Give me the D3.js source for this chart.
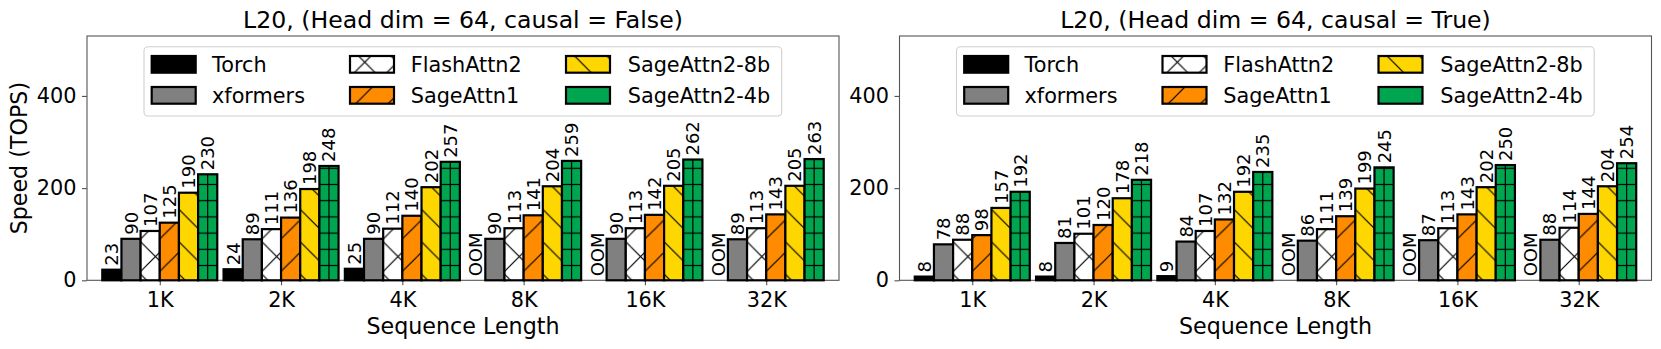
<!DOCTYPE html>
<html>
<head>
<meta charset="utf-8">
<script src="https://cdn.jsdelivr.net/npm/d3@7"></script>
<style>
  body { margin: 0; background: #fff; }
  text { font-family: "DejaVu Sans", sans-serif; fill: #000; }
</style>
</head>
<body>
<div class="chart"></div>
<script>
// ---- data ----
const seqLabels = ["1K", "2K", "4K", "8K", "16K", "32K"];
const methods = ["Torch", "xformers", "FlashAttn2", "SageAttn1", "SageAttn2-8b", "SageAttn2-4b"];
const yTicks = [0, 200, 400];
const titles = ["L20, (Head dim = 64, causal = False)", "L20, (Head dim = 64, causal = True)"];

// null means OOM
const torchFalse = [23, 24, 25, null, null, null];
const xformersFalse = [90, 89, 90, 90, 90, 89];
const flashFalse = [107, 111, 112, 113, 113, 113];
const sage1False = [125, 136, 140, 141, 142, 143];
const sage8bFalse = [190, 198, 202, 204, 205, 205];
const sage4bFalse = [230, 248, 257, 259, 262, 263];

const torchTrue = [8, 8, 9, null, null, null];
const xformersTrue = [78, 81, 84, 86, 87, 88];
const flashTrue = [88, 101, 107, 111, 113, 114];
const sage1True = [98, 120, 132, 139, 143, 144];
const sage8bTrue = [157, 178, 192, 199, 202, 204];
const sage4bTrue = [192, 218, 235, 245, 250, 254];

const panels = [
  [torchFalse, xformersFalse, flashFalse, sage1False, sage8bFalse, sage4bFalse],
  [torchTrue, xformersTrue, flashTrue, sage1True, sage8bTrue, sage4bTrue]
];

const colors = ["#000000", "#808080", "#ffffff", "#ff8c00", "#ffd700", "#00a550"];
const hatches = [null, null, "hx", "hf", "hb", "hh"];

// ---- layout ----
const W = 1661, H = 349;
const plotTop = 36;
const plotW = 752, plotH = 244.3;
const panelLeft = [87, 899.5];
const barW = 0.158;

const svg = d3.select(".chart").append("svg")
  .attr("width", W)
  .attr("height", H);

const defs = svg.append("defs");

// hatch tiles (diagonals every 32.4px, horizontal every 16.2px)
const P = 32.4, Q = 16.2;
function addPattern(id, size, segs, tx, ty) {
  const p = defs.append("pattern")
    .attr("id", id)
    .attr("patternUnits", "userSpaceOnUse")
    .attr("width", size)
    .attr("height", size)
    .attr("patternTransform", `translate(${tx},${ty})`);
  segs.forEach(s => {
    p.append("line")
      .attr("x1", s[0]).attr("y1", s[1])
      .attr("x2", s[2]).attr("y2", s[3])
      .attr("stroke", "#000")
      .attr("stroke-width", 1.2);
  });
}
const fwd = [[0, P, P, 0], [-2, 2, 2, -2], [P - 2, P + 2, P + 2, P - 2]];
const back = [[0, 0, P, P], [-2, P - 2, 2, P + 2], [P - 2, -2, P + 2, 2]];
addPattern("hf", P, fwd, 8.6, 0);
addPattern("hb", P, back, 0, 11.4);
addPattern("hx", P, fwd.concat(back), -1.4, 10);
addPattern("hh", Q, [[-1, Q / 2, Q + 1, Q / 2]], 0, -5.4);

const x = d3.scaleLinear().domain([-0.6, 5.6]).range([0, plotW]);
const y = d3.scaleLinear().domain([0, 530]).range([plotH, 0]);
const bw = x(barW) - x(0);

panels.forEach((series, p) => {
  const plot = svg.append("g")
    .attr("transform", `translate(${panelLeft[p]},${plotTop})`);

  // title
  svg.append("text")
    .attr("x", panelLeft[p] + plotW / 2)
    .attr("y", 28)
    .attr("text-anchor", "middle")
    .attr("font-size", "23.6px")
    .text(titles[p]);

  // axes
  const xAxis = d3.axisBottom(x)
    .tickValues(d3.range(seqLabels.length))
    .tickFormat(i => seqLabels[i])
    .tickSize(5)
    .tickSizeOuter(0)
    .tickPadding(6.6);
  const yAxis = d3.axisLeft(y)
    .tickValues(yTicks)
    .tickSize(5)
    .tickSizeOuter(0)
    .tickPadding(5.5);

  const gx = plot.append("g").attr("transform", `translate(0,${plotH})`).call(xAxis);
  const gy = plot.append("g").call(yAxis);
  [gx, gy].forEach(g => {
    g.select(".domain").remove();
    g.selectAll("line").attr("stroke", "#555").attr("stroke-width", 1.1);
    g.selectAll("text").attr("font-size", "20.8px").attr("font-family", "DejaVu Sans").attr("fill", "#000");
  });

  // frame
  plot.append("rect")
    .attr("width", plotW)
    .attr("height", plotH)
    .attr("fill", "none")
    .attr("stroke", "#555")
    .attr("stroke-width", 1.1);

  // bars
  series.forEach((vals, j) => {
    vals.forEach((v, i) => {
      const left = x(i + (j - 3) * barW);
      const g = plot.append("g").attr("transform", `translate(${left},0)`);
      const val = v == null ? 0 : v;
      if (v != null) {
        g.append("rect")
          .attr("x", 0).attr("y", y(v))
          .attr("width", bw).attr("height", plotH - y(v))
          .attr("fill", colors[j]);
        if (hatches[j]) {
          g.append("rect")
            .attr("x", 0).attr("y", y(v))
            .attr("width", bw).attr("height", plotH - y(v))
            .attr("fill", `url(#${hatches[j]})`);
        }
        if (j == 5) {
          // 4b bars also carry a centre line
          g.append("line")
            .attr("x1", bw / 2).attr("x2", bw / 2)
            .attr("y1", y(v)).attr("y2", plotH)
            .attr("stroke", "#000")
            .attr("stroke-width", 1.2);
        }
        g.append("rect")
          .attr("x", 0).attr("y", y(v))
          .attr("width", bw).attr("height", plotH - y(v))
          .attr("fill", "none")
          .attr("stroke", "#000")
          .attr("stroke-width", 2.2);
      }
      plot.append("text")
        .attr("transform", `translate(${left + bw / 2},${y(val) - 4}) rotate(-90)`)
        .attr("dy", "0.36em")
        .attr("font-size", "18px")
        .text(v == null ? "OOM" : v);
    });
  });

  // legend
  const lg = plot.append("g");
  lg.append("rect")
    .attr("x", 57).attr("y", 10.7)
    .attr("width", 637.7).attr("height", 69.3)
    .attr("rx", 4)
    .attr("fill", "#fff").attr("fill-opacity", 0.8)
    .attr("stroke", "#d0d0d0")
    .attr("stroke-width", 1.1);
  const colPatch = [64.7, 263, 479];
  const colText = [125, 323.7, 540.7];
  const rowY = [20, 51];
  methods.forEach((m, j) => {
    const c = Math.floor(j / 2), r = j % 2;
    const item = lg.append("g").attr("transform", `translate(${colPatch[c]},0)`);
    item.append("rect")
      .attr("x", 0).attr("y", rowY[r])
      .attr("width", 44).attr("height", 16.7)
      .attr("fill", colors[j]);
    if (hatches[j] && j != 5) {
      item.append("rect")
        .attr("x", 0).attr("y", rowY[r])
        .attr("width", 44).attr("height", 16.7)
        .attr("fill", `url(#${hatches[j]})`);
    }
    item.append("rect")
      .attr("x", 0).attr("y", rowY[r])
      .attr("width", 44).attr("height", 16.7)
      .attr("fill", "none")
      .attr("stroke", "#000")
      .attr("stroke-width", 2.2);
    lg.append("text")
      .attr("x", colText[c])
      .attr("y", rowY[r] + 8.35)
      .attr("dy", "0.35em")
      .attr("font-size", "20.8px")
      .text(m);
  });

  // x label
  svg.append("text")
    .attr("x", panelLeft[p] + plotW / 2)
    .attr("y", 334)
    .attr("text-anchor", "middle")
    .attr("font-size", "22.2px")
    .text("Sequence Length");
});

// y label (left panel only)
svg.append("text")
  .attr("transform", `translate(19,${plotTop + plotH / 2}) rotate(-90)`)
  .attr("text-anchor", "middle")
  .attr("dy", "0.35em")
  .attr("font-size", "22.2px")
  .text("Speed (TOPS)");
</script>
</body>
</html>
